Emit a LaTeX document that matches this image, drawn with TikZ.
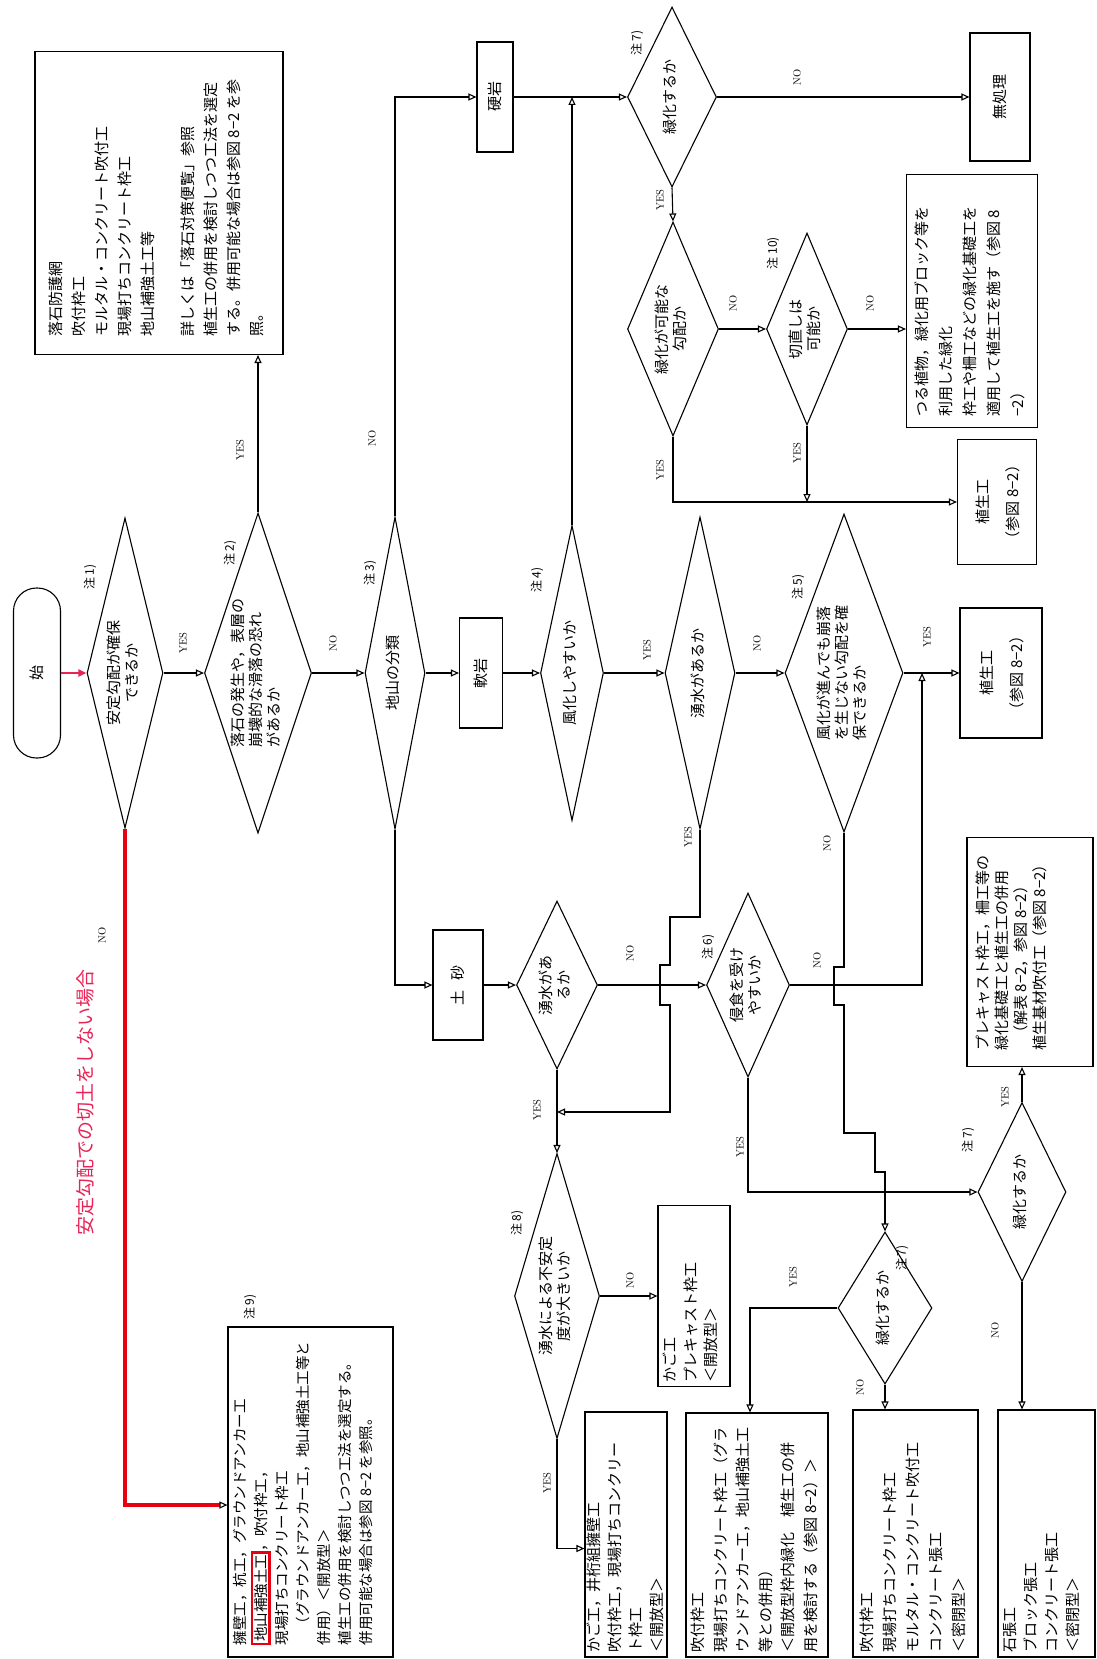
\documentclass[tikz,border=0pt]{standalone}
\usepackage{fontspec}
\usepackage{graphicx}
\usepackage{tikz}
\usetikzlibrary{arrows.meta, shapes.geometric}
\newfontfamily\jp{Noto Sans CJK JP}
\definecolor{markred}{RGB}{230,0,18}
\definecolor{notered}{RGB}{232,36,86}

% rotated texts (the chart is printed sideways)
\newcommand{\vrot}[1]{\rotatebox{90}{#1}}
\newcommand{\dtext}[1]{\rotatebox{90}{\fontsize{15}{18}\selectfont\begin{tabular}{@{}c@{}}#1\end{tabular}}}
\newcommand{\dtextl}[1]{\rotatebox{90}{\fontsize{15}{18}\selectfont\begin{tabular}{@{}l@{}}#1\end{tabular}}}
\newcommand{\ctext}[1]{\rotatebox{90}{\fontsize{15}{30}\selectfont\begin{tabular}{@{}c@{}}#1\end{tabular}}}
\newcommand{\btext}[4][23]{\rotatebox{90}{\parbox[c][#2pt][t]{#3pt}{\fontsize{15}{#1}\selectfont\raggedright #4}}}
\newcommand{\redframe}[1]{{\setlength{\fboxsep}{1pt}\setlength{\fboxrule}{2.4pt}\smash{\fcolorbox{markred}{white}{#1}}}}

\begin{document}
\begin{tikzpicture}[x=1pt, y=-1pt, line width=1.1pt,
    box/.style={draw, rectangle, inner sep=0pt, font=\jp\fontsize{15}{18}\selectfont},
    decision/.style={draw, diamond, inner sep=0pt, font=\jp},
    term/.style={draw, rectangle, rounded corners=23pt, inner sep=0pt, font=\jp\fontsize{15}{18}\selectfont},
    flow/.style={-{Triangle[open, length=8pt, width=7pt]}},
    yn/.style={inner sep=0pt, font=\fontsize{10.5}{12}\selectfont},
    note/.style={inner sep=0pt, font=\jp\fontsize{12}{14}\selectfont}]

    \useasboundingbox (0,0) rectangle (1097,1659);

    % ===== Main row =====
    \node[term, minimum width=47, minimum height=170] (start) at (37,673) {\vrot{始}};
    \node[decision, minimum width=76, minimum height=310, shape aspect=0.25] (d1) at (125,673) {\dtext{安定勾配が確保\\できるか}};
    \node[decision, minimum width=107, minimum height=320, shape aspect=0.33] (d2) at (258,673) {\dtextl{落石の発生や，表層の\\崩壊的な滑落の恐れ\\があるか}};
    \node[decision, minimum width=60, minimum height=312, shape aspect=0.19] (d3) at (395,673) {\dtext{地山の分類}};
    \node[box, minimum width=43, minimum height=110] (soft) at (481,673) {\vrot{軟岩}};
    \node[decision, minimum width=63, minimum height=295, shape aspect=0.21] (d4) at (572,673) {\dtext{風化しやすいか}};
    \node[decision, minimum width=70, minimum height=312, shape aspect=0.22] (d5) at (700,673) {\dtext{湧水があるか}};
    \node[decision, minimum width=118, minimum height=318, shape aspect=0.37] (d6) at (844,673) {\dtextl{風化が進んでも崩落\\を生じない勾配を確\\保できるか}};
    \node[box, minimum width=82, minimum height=130] (veg2) at (1001,673) {\ctext{植生工\\（参図 8−2）}};

    % ===== Upper part =====
    \node[box, minimum width=248, minimum height=303] (rockbox) at (159,203)
        {\btext{220}{267}{落石防護網\\吹付枠工\\モルタル・コンクリート吹付工\\現場打ちコンクリート枠工\\地山補強土工等\\[17pt]詳しくは「落石対策便覧」参照\\植生工の併用を検討しつつ工法を選定\\する。併用可能な場合は参図 8−2 を参\\照。}};
    \node[box, minimum width=36, minimum height=110] (hard) at (495,97) {\vrot{硬岩}};
    \node[decision, minimum width=89, minimum height=180, shape aspect=0.5] (g1) at (672,97) {\dtext{緑化するか}};
    \node[box, minimum width=60, minimum height=128] (none) at (1000,97) {\vrot{無処理}};
    \node[decision, minimum width=91, minimum height=214, shape aspect=0.42] (g2) at (673,329) {\dtext{緑化が可能な\\勾配か}};
    \node[decision, minimum width=81, minimum height=192, shape aspect=0.42] (recut) at (807,329) {\dtext{切直しは\\可能か}};
    \node[box, minimum width=131, minimum height=253] (climb) at (972,301)
        {\btext[24]{115}{231}{つる植物，緑化用ブロック等を\\利用した緑化\\枠工や柵工などの緑化基礎工を\\適用して植生工を施す（参図 8\\−2）}};
    \node[box, minimum width=79, minimum height=125] (veg1) at (997,502) {\ctext{植生工\\（参図 8−2）}};

    % ===== Lower part =====
    \node[box, minimum width=50, minimum height=110] (sand) at (458,985) {\vrot{土\hspace{10pt}砂}};
    \node[decision, minimum width=81, minimum height=168, shape aspect=0.48] (d7) at (557,985) {\dtext{湧水があ\\るか}};
    \node[decision, minimum width=83, minimum height=184, shape aspect=0.45] (d8) at (748,985) {\dtext{侵食を受け\\やすいか}};
    \node[box, minimum width=126, minimum height=229] (precast) at (1030,952)
        {\btext[19]{108}{197}{プレキャスト枠工，柵工等の\\緑化基礎工と植生工の併用\\\hspace*{10pt}（解表 8−2，参図 8−2）\\植生基材吹付工（参図 8−2）}};
    \node[decision, minimum width=88, minimum height=179, shape aspect=0.5] (d10) at (1022,1192) {\dtext{緑化するか}};
    \node[decision, minimum width=85, minimum height=285, shape aspect=0.3] (d9) at (557,1296) {\dtext{湧水による不安定\\度が大きいか}};
    \node[box, minimum width=72, minimum height=181] (boxC) at (694,1296)
        {\btext[20.5]{62}{173}{かご工\\プレキャスト枠工\\＜開放型＞}};
    \node[decision, minimum width=94, minimum height=152, shape aspect=0.6] (d11) at (885,1308) {\dtext{緑化するか}};

    % ===== Bottom boxes =====
    \node[box, minimum width=165, minimum height=330] (boxA) at (310.5,1492)
        {\btext{155}{306}{\fontsize{14.5}{21}\selectfont 擁壁工，杭工，グラウンドアンカー工\\\redframe{地山補強土工}，吹付枠工，\\現場打ちコンクリート枠工\\\hspace*{14pt}（グラウンドアンカー工，地山補強土工等と\\併用）＜開放型＞\\植生工の併用を検討しつつ工法を選定する。\\併用可能な場合は参図 8−2 を参照。}};
    \node[box, minimum width=82, minimum height=245] (boxB) at (626,1534.5)
        {\btext[21]{78}{235}{かご工，井桁組擁壁工\\吹付枠工，現場打ちコンクリー\\ト枠工\\＜開放型＞}};
    \node[box, minimum width=142, minimum height=244] (boxD) at (757,1535)
        {\btext[22.5]{132}{234}{吹付枠工\\現場打ちコンクリート枠工（グラ\\ウンドアンカー工，地山補強土工\\等との併用）\\＜開放型枠内緑化　植生工の併\\用を検討する（参図 8−2）＞}};
    \node[box, minimum width=125, minimum height=247] (boxE) at (915.5,1533.5)
        {\btext{111}{237}{吹付枠工\\現場打ちコンクリート枠工\\モルタル・コンクリート吹付工\\コンクリート張工\\＜密閉型＞}};
    \node[box, minimum width=97, minimum height=247] (boxF) at (1046.5,1533.5)
        {\btext[21]{87}{237}{石張工\\ブロック張工\\コンクリート張工\\＜密閉型＞}};

    % join points on other lines
    \coordinate (yesjoin) at (557,1112);
    \coordinate (nojoin) at (922,673);

    % ===== Connectors =====
    \draw[notered, line width=2.6pt, -{Triangle[length=8pt, width=7pt]}] (start) -- (d1);
    \draw[markred, line width=3.2pt, -{Triangle[open, length=8pt, width=7pt, line width=1.1pt, color=black]}]
        (d1.south) |- ([yshift=-13pt]boxA.west);
    \draw[flow] (d1) -- (d2);
    \draw[flow] (d2.north) -- (d2.north |- rockbox.south);
    \draw[flow] (d2) -- (d3);
    \draw[flow] (d3.north) |- (hard.west);
    \draw[flow] (d3) -- (soft);
    \draw[flow] (soft) -- (d4);
    \draw[flow] (d4.north) -- (d4.north |- hard.east);
    \draw[flow] (hard) -- (g1);
    \draw[flow] (g1) -- (none);
    \draw[flow] (g1.south) -- (g2.north);
    \draw[flow] (g2) -- (recut);
    \draw[flow] (recut.east) -- (recut.east -| climb.west);
    \draw[flow] (g2.south) |- (veg1.west);
    \draw[flow] (recut.south) -- (recut.south |- veg1.west);
    \draw[flow] (d4) -- (d5);
    \draw[flow] (d5) -- (d6);
    \draw[flow] (d6) -- (veg2);

    \draw[flow] (d3.south) |- (sand.west);
    \draw[flow] (sand) -- (d7);
    \draw[flow] (d7) -- (d8);
    \draw[flow] (d7.south) -- (d9.north);
    % YES of the upper spring check, jumping the crossing line
    \draw[flow] (d5.south) -- (700,917) -- (670,917) -- (670,965) -- (660,965) -- (660,1005)
        -- (670,1005) -- (670,1112) -- (yesjoin);
    \draw[flow] (d8.east) -- (922,985) -- (nojoin);
    \draw[flow] (d6.south) -- (844,967) -- (834,967) -- (834,1005) -- (844,1005) -- (844,1133)
        -- (875,1133) -- (875,1172) -- (885,1172) -- (d11.north);
    \draw[flow] (d8.south) |- (d10.west);
    \draw[flow] (d10.north) -- (d10.north |- precast.south);
    \draw[flow] (d10.south) -- (d10.south |- boxF.north);
    \draw[flow] (d11.west) -| ([xshift=-7pt]boxD.north);
    \draw[flow] (d11.south) -- (d11.south |- boxE.north);
    \draw[flow] (d9) -- (boxC);
    \draw[flow] (d9.south) |- ([yshift=-14pt]boxB.west);

    % ===== YES / NO labels =====
    \node[yn] (y1) at (183,643) {\vrot{YES}};
    \node[yn] (y2) at (240,450) {\vrot{YES}};
    \node[yn] (n2) at (333,643) {\vrot{NO}};
    \node[yn] (n3) at (372,438) {\vrot{NO}};
    \node[yn] (y4) at (647,650) {\vrot{YES}};
    \node[yn] (n5) at (757,643) {\vrot{NO}};
    \node[yn] (y6) at (927,637) {\vrot{YES}};
    \node[yn] (yg1) at (660,200) {\vrot{YES}};
    \node[yn] (ng1) at (797,77) {\vrot{NO}};
    \node[yn] (ng2) at (733,303) {\vrot{NO}};
    \node[yn] (nrc) at (870,303) {\vrot{NO}};
    \node[yn] (yg2) at (660,470) {\vrot{YES}};
    \node[yn] (yrc) at (797,453) {\vrot{YES}};
    \node[yn] (n7) at (630,953) {\vrot{NO}};
    \node[yn] (y7) at (537,1110) {\vrot{YES}};
    \node[yn] (y5) at (688,837) {\vrot{YES}};
    \node[yn] (n6) at (827,843) {\vrot{NO}};
    \node[yn] (n8) at (817,960) {\vrot{NO}};
    \node[yn] (y8) at (740,1147) {\vrot{YES}};
    \node[yn] (y10) at (1005,1097) {\vrot{YES}};
    \node[yn] (n10) at (995,1330) {\vrot{NO}};
    \node[yn] (y11) at (793,1277) {\vrot{YES}};
    \node[yn] (n11) at (860,1387) {\vrot{NO}};
    \node[yn] (n9) at (630,1280) {\vrot{NO}};
    \node[yn] (y9) at (547,1483) {\vrot{YES}};
    \node[yn] (n1) at (102,935) {\vrot{NO}};

    % ===== Notes =====
    \node[note] (note1) at (90,577) {\vrot{注 1)}};
    \node[note] (note2) at (230,553) {\vrot{注 2)}};
    \node[note] (note3) at (370,573) {\vrot{注 3)}};
    \node[note] (note4) at (537,580) {\vrot{注 4)}};
    \node[note] (note5) at (798,587) {\vrot{注 5)}};
    \node[note] (note6) at (708,947) {\vrot{注 6)}};
    \node[note] (note7a) at (637,43) {\vrot{注 7)}};
    \node[note] (note7b) at (968,1140) {\vrot{注 7)}};
    \node[note] (note7c) at (902,1258) {\vrot{注 7)}};
    \node[note] (note8) at (517,1223) {\vrot{注 8)}};
    \node[note] (note9) at (250,1307) {\vrot{注 9)}};
    \node[note] (note10) at (773,253) {\vrot{注 10)}};

    % red remark on the NO branch
    \node[inner sep=0pt, text=notered, font=\jp\fontsize{19}{22}\selectfont] (redtext) at (85,1102) {\vrot{安定勾配での切土をしない場合}};

\end{tikzpicture}
\end{document}
